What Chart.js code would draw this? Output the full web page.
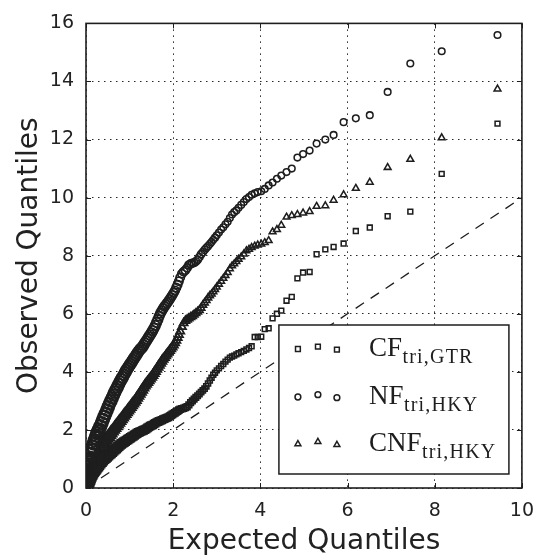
<!DOCTYPE html>
<html><head><meta charset="utf-8">
<script src="https://cdn.jsdelivr.net/npm/chart.js@4/dist/chart.umd.min.js"></script>
<style>html,body{margin:0;padding:0;background:#fff;}#wrap{width:546px;height:556px;}</style>
</head><body><div id="wrap"><canvas id="c" width="546" height="556"></canvas></div>
<script>
// Expected quantiles (shared x positions of the three series)
const expectedQ = [
  0.00,0.01,0.02,0.03,0.04,0.05,0.06,0.07,0.08,0.09,
  0.10,0.12,0.14,0.16,0.18,0.20,0.22,0.24,0.26,0.28,
  0.30,0.33,0.36,0.39,0.42,0.45,0.48,0.51,0.54,0.57,
  0.60,0.63,0.66,0.69,0.72,0.75,0.78,0.81,0.84,0.87,
  0.90,0.93,0.96,0.99,1.02,1.05,1.08,1.11,1.14,1.17,
  1.20,1.23,1.26,1.29,1.32,1.35,1.38,1.41,1.44,1.47,
  1.50,1.53,1.56,1.59,1.62,1.65,1.68,1.71,1.74,1.77,
  1.80,1.83,1.86,1.89,1.92,1.95,1.98,2.01,2.04,2.07,
  2.10,2.13,2.16,2.20,2.24,2.28,2.32,2.36,2.40,2.44,
  2.48,2.52,2.56,2.60,2.64,2.68,2.72,2.76,2.80,2.84,
  2.88,2.92,2.96,3.00,3.05,3.10,3.15,3.20,3.25,3.30,
  3.35,3.40,3.45,3.50,3.56,3.62,3.68,3.74,3.80,3.87,
  3.94,4.02,4.10,4.19,4.28,4.38,4.48,4.60,4.72,4.85,
  4.98,5.13,5.29,5.49,5.68,5.91,6.19,6.51,6.92,7.44,
  8.16,9.44
];
// Observed quantiles, CF tri,GTR (squares)
const cfObserved = [
  0.00,0.04,0.08,0.12,0.16,0.20,0.23,0.26,0.29,0.32,
  0.35,0.41,0.46,0.51,0.56,0.60,0.64,0.68,0.72,0.76,
  0.80,0.85,0.90,0.95,1.00,1.04,1.08,1.12,1.16,1.20,
  1.24,1.28,1.32,1.36,1.40,1.44,1.48,1.52,1.55,1.58,
  1.61,1.64,1.67,1.70,1.73,1.76,1.79,1.82,1.85,1.88,
  1.91,1.93,1.95,1.97,1.99,2.01,2.04,2.07,2.10,2.13,
  2.15,2.17,2.20,2.23,2.26,2.28,2.30,2.32,2.34,2.36,
  2.38,2.40,2.42,2.44,2.47,2.50,2.53,2.56,2.59,2.62,
  2.65,2.68,2.71,2.73,2.75,2.77,2.80,2.86,2.94,3.00,
  3.06,3.12,3.18,3.24,3.30,3.36,3.42,3.50,3.60,3.70,
  3.80,3.90,3.97,4.05,4.12,4.20,4.27,4.35,4.42,4.49,
  4.53,4.56,4.60,4.64,4.68,4.72,4.77,4.82,4.88,5.20,
  5.20,5.21,5.47,5.50,5.84,6.00,6.11,6.45,6.58,7.22,
  7.42,7.44,8.05,8.22,8.30,8.42,8.85,8.97,9.36,9.52,
  10.82,12.55
];
// Observed quantiles, NF tri,HKY (circles)
const nfObserved = [
  0.00,0.15,0.30,0.42,0.52,0.62,0.72,0.80,0.88,0.96,
  1.03,1.17,1.30,1.42,1.53,1.63,1.72,1.80,1.88,1.95,
  2.02,2.13,2.24,2.35,2.46,2.57,2.68,2.79,2.90,3.00,
  3.10,3.20,3.30,3.39,3.48,3.57,3.66,3.74,3.82,3.90,
  3.98,4.06,4.13,4.20,4.27,4.34,4.41,4.48,4.55,4.62,
  4.69,4.75,4.80,4.85,4.92,4.99,5.06,5.13,5.20,5.27,
  5.34,5.42,5.50,5.60,5.70,5.80,5.92,6.02,6.10,6.18,
  6.25,6.31,6.37,6.43,6.50,6.57,6.64,6.72,6.80,6.90,
  7.00,7.12,7.25,7.38,7.45,7.50,7.58,7.68,7.72,7.74,
  7.76,7.80,7.86,7.95,8.05,8.12,8.20,8.27,8.33,8.40,
  8.47,8.55,8.62,8.70,8.80,8.90,8.98,9.08,9.17,9.30,
  9.42,9.50,9.56,9.65,9.75,9.85,9.95,10.02,10.10,10.15,
  10.19,10.22,10.30,10.42,10.52,10.65,10.76,10.88,11.00,11.38,
  11.50,11.62,11.86,12.00,12.16,12.60,12.73,12.84,13.64,14.62,
  15.04,15.60
];
// Observed quantiles, CNF tri,HKY (triangles)
const cnfObserved = [
  0.00,0.08,0.15,0.21,0.27,0.32,0.37,0.42,0.47,0.52,
  0.56,0.65,0.73,0.81,0.88,0.95,1.02,1.08,1.14,1.20,
  1.26,1.34,1.42,1.50,1.57,1.64,1.71,1.77,1.83,1.89,
  1.95,2.01,2.07,2.13,2.19,2.25,2.31,2.37,2.43,2.49,
  2.55,2.61,2.67,2.73,2.79,2.85,2.91,2.97,3.03,3.10,
  3.17,3.24,3.31,3.38,3.45,3.52,3.58,3.64,3.70,3.76,
  3.82,3.88,3.95,4.02,4.09,4.16,4.23,4.30,4.37,4.43,
  4.49,4.55,4.61,4.67,4.73,4.79,4.85,4.92,5.00,5.08,
  5.18,5.28,5.40,5.55,5.68,5.76,5.80,5.84,5.88,5.92,
  5.97,6.02,6.07,6.12,6.20,6.30,6.38,6.46,6.55,6.62,
  6.68,6.76,6.84,6.92,7.02,7.12,7.22,7.32,7.42,7.55,
  7.65,7.72,7.80,7.88,7.96,8.06,8.17,8.22,8.28,8.33,
  8.37,8.40,8.45,8.52,8.82,8.90,9.05,9.33,9.38,9.42,
  9.47,9.52,9.70,9.72,9.91,10.10,10.32,10.53,11.04,11.32,
  12.06,13.74
];
// Reference line y = x
const refLineX = [0, 10];
const refLineY = [0, 10];
// Tick values
const xTicks = [0, 2, 4, 6, 8, 10];
const yTicks = [0, 2, 4, 6, 8, 10, 12, 14, 16];
// Legend labels (main text + subscript)
const seriesMain = ['CF', 'NF', 'CNF'];
const seriesSub = ['tri,GTR', 'tri,HKY', 'tri,HKY'];
const seriesStyle = ['rect', 'circle', 'triangle'];
const axisTitles = ['Expected Quantiles', 'Observed Quantiles'];

const INK = '#1e1e1e';
const toPts = (ys) => expectedQ.map((x, i) => ({x: x, y: ys[i]}));

function markerPath(ctx, style, x, y, r) {
  ctx.beginPath();
  if (style === 'circle') {
    ctx.arc(x, y, r, 0, Math.PI * 2);
  } else if (style === 'rect') {
    const s = r * Math.SQRT1_2;
    ctx.rect(x - s, y - s, 2 * s, 2 * s);
  } else {
    for (let k = 0; k < 3; k++) {
      const a = k * 2 * Math.PI / 3;
      const px = x + Math.sin(a) * r, py = y - Math.cos(a) * r;
      if (k === 0) ctx.moveTo(px, py); else ctx.lineTo(px, py);
    }
    ctx.closePath();
  }
}

const framePlugin = {
  id: 'frameAndLegend',
  afterDatasetsDraw(chart) {
    const {ctx, chartArea: a, scales} = chart;
    const sx = scales.x, sy = scales.y;
    ctx.save();
    ctx.strokeStyle = INK; ctx.lineWidth = 1;
    const tl = 5;
    ctx.beginPath();
    sx.ticks.forEach(t => {
      const p = Math.round(sx.getPixelForValue(t.value)) + 0.5;
      ctx.moveTo(p, a.bottom); ctx.lineTo(p, a.bottom - tl);
      ctx.moveTo(p, a.top); ctx.lineTo(p, a.top + tl);
    });
    sy.ticks.forEach(t => {
      const p = Math.round(sy.getPixelForValue(t.value)) + 0.5;
      ctx.moveTo(a.left, p); ctx.lineTo(a.left + tl, p);
      ctx.moveTo(a.right, p); ctx.lineTo(a.right - tl, p);
    });
    ctx.stroke();
    ctx.lineWidth = 1.6; ctx.strokeStyle = INK;
    ctx.strokeRect(a.left, a.top, a.right - a.left, a.bottom - a.top);

    // legend
    const bw = 230, bh = 149;
    const bx = a.right - 13 - bw, by = a.bottom - 14 - bh;
    ctx.fillStyle = '#fff';
    ctx.fillRect(bx, by, bw, bh);
    ctx.lineWidth = 1.5; ctx.strokeStyle = INK;
    ctx.strokeRect(bx, by, bw, bh);
    const rowY = [24, 72, 119];
    const mx = [19, 39, 58];
    const my = [0, -2.3, 0.7];
    const mr = {rect: 3.4, circle: 2.9, triangle: 3.4};
    for (let i = 0; i < 3; i++) {
      const cy = by + rowY[i];
      ctx.lineWidth = 1.5; ctx.strokeStyle = INK;
      for (let k = 0; k < 3; k++) {
        markerPath(ctx, seriesStyle[i], bx + mx[k], cy + my[k], mr[seriesStyle[i]]);
        ctx.stroke();
      }
      ctx.fillStyle = INK;
      ctx.textBaseline = 'alphabetic';
      ctx.textAlign = 'left';
      ctx.font = '27px "Liberation Serif"';
      const tx = bx + 90, base = cy + 6.5;
      ctx.fillText(seriesMain[i], tx, base);
      const w = ctx.measureText(seriesMain[i]).width;
      ctx.font = '20px "Liberation Serif"';
      if ('letterSpacing' in ctx) ctx.letterSpacing = '1.2px';
      ctx.fillText(seriesSub[i], tx + w + 0.5, base + 7);
      if ('letterSpacing' in ctx) ctx.letterSpacing = '0px';
    }
    ctx.restore();
  }
};

// dense part of the curves is drawn with slightly heavier markers, as in the reference
const grow = (c, base, k) => (c.raw ? base + k * Math.max(0, 1 - c.raw.x / 3) : base);
const markerCommon = {
  showLine: false,
  backgroundColor: 'rgba(0,0,0,0)',
  borderColor: INK,
  pointBackgroundColor: 'rgba(0,0,0,0)',
  pointBorderColor: INK,
  pointBorderWidth: c => grow(c, 1.55, 0.8),
  pointHoverRadius: 0,
  order: 1
};

new Chart(document.getElementById('c'), {
  type: 'scatter',
  data: {
    datasets: [
      Object.assign({label: seriesMain[0] + ' ' + seriesSub[0], data: toPts(cfObserved),
        pointStyle: 'rect', pointRadius: c => grow(c, 3.4, 2.6)}, markerCommon),
      Object.assign({label: seriesMain[1] + ' ' + seriesSub[1], data: toPts(nfObserved),
        pointStyle: 'circle', pointRadius: c => grow(c, 3.3, 3.0)}, markerCommon),
      Object.assign({label: seriesMain[2] + ' ' + seriesSub[2], data: toPts(cnfObserved),
        pointStyle: 'triangle', pointRadius: c => grow(c, 3.9, 3.0)}, markerCommon),
      {type: 'line', label: 'y = x', data: refLineX.map((x, i) => ({x: x, y: refLineY[i]})),
        borderColor: INK, borderWidth: 1.3, borderDash: [10, 8], pointRadius: 0,
        fill: false, order: 5}
    ]
  },
  options: {
    responsive: false,
    animation: false,
    devicePixelRatio: 1,
    layout: {padding: {top: 14, right: 23, left: 0, bottom: 0}},
    plugins: {legend: {display: false}, tooltip: {enabled: false}},
    scales: {
      x: {
        type: 'linear', min: 0, max: 10,
        afterBuildTicks: s => { s.ticks = xTicks.map(v => ({value: v})); },
        afterFit: s => { s.height = 68; },
        grid: {color: 'rgba(0,0,0,0.85)', lineWidth: 1, drawTicks: false},
        border: {display: false, dash: [1.5, 4.5]},
        ticks: {padding: 12, color: '#222', font: {family: 'DejaVu Sans', size: 19}},
        title: {display: true, text: axisTitles[0], color: '#222',
          font: {family: 'DejaVu Sans', size: 28}, padding: {top: 0, bottom: -3}}
      },
      y: {
        type: 'linear', min: 0, max: 16,
        afterBuildTicks: s => { s.ticks = yTicks.map(v => ({value: v})); },
        afterFit: s => { s.width = 86; },
        grid: {color: 'rgba(0,0,0,0.85)', lineWidth: 1, drawTicks: false},
        border: {display: false, dash: [1.5, 4.5]},
        ticks: {padding: 12, color: '#222', font: {family: 'DejaVu Sans', size: 19}},
        title: {display: true, text: axisTitles[1], color: '#222',
          font: {family: 'DejaVu Sans', size: 28}, padding: {top: 13, bottom: 0}}
      }
    }
  },
  plugins: [framePlugin]
});
</script>
</body></html>
